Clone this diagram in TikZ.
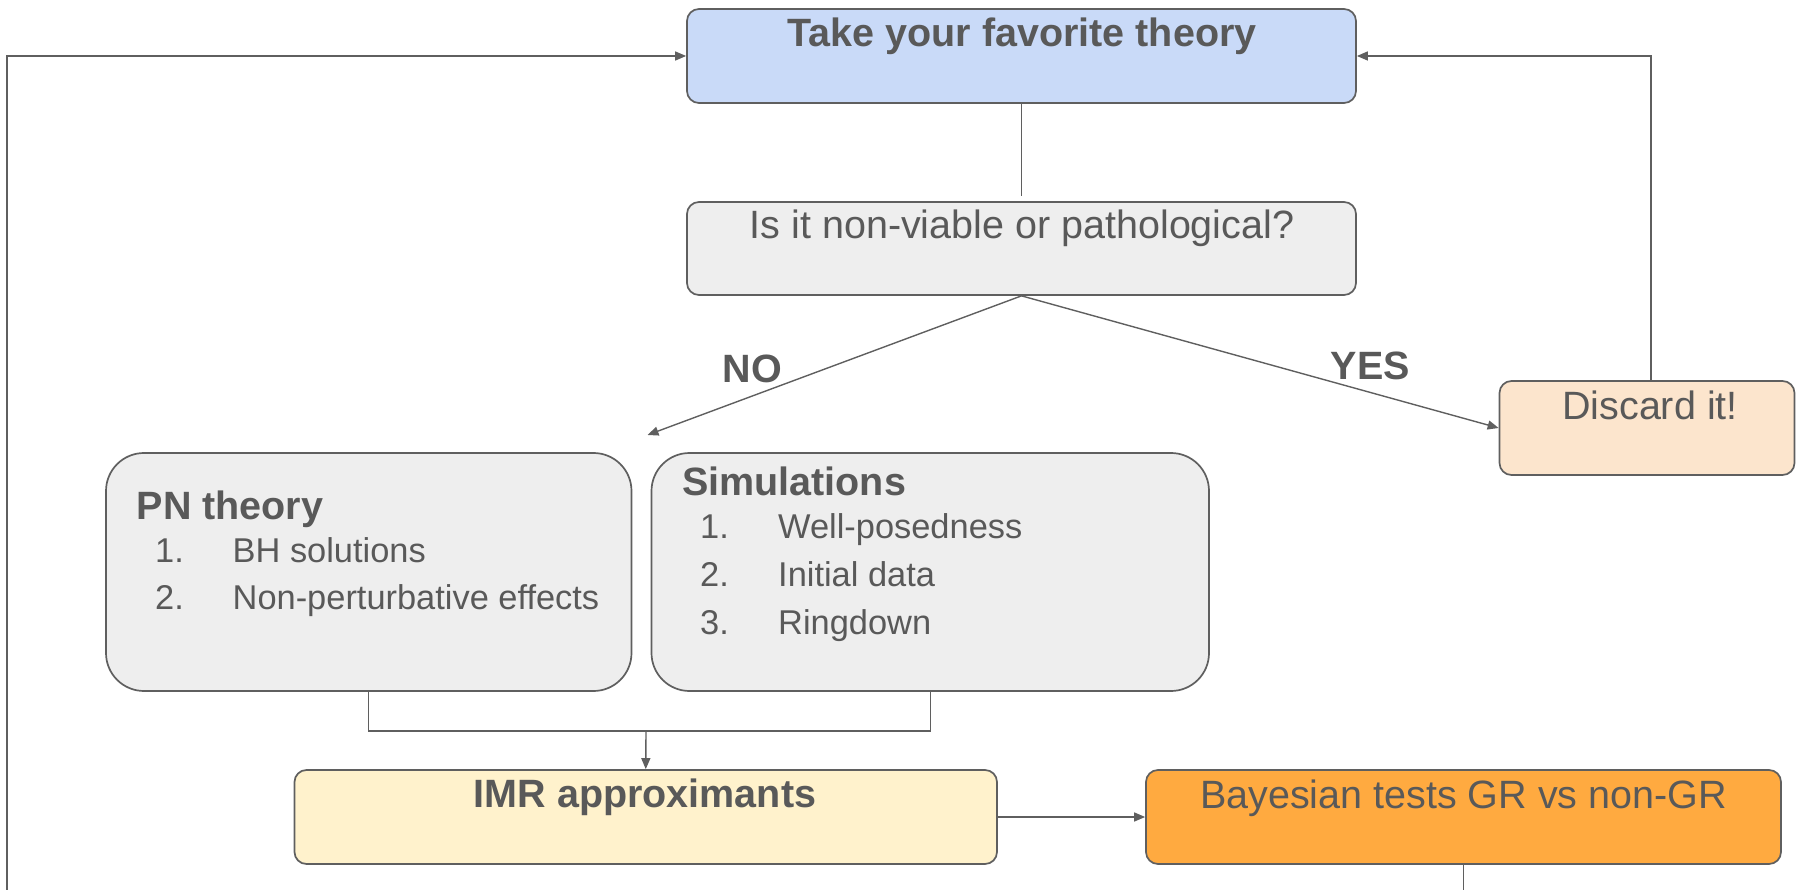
\documentclass[tikz,border=0pt]{standalone}
\usepackage{fontspec}
\setmainfont{Liberation Sans}
\usetikzlibrary{arrows.meta}
\definecolor{txt}{HTML}{595959}
\definecolor{edge}{HTML}{5F5F5F}
\definecolor{cblue}{HTML}{C9DAF8}
\definecolor{cgray}{HTML}{EEEEEE}
\definecolor{cpeach}{HTML}{FCE5CD}
\definecolor{cyellow}{HTML}{FFF2CC}
\definecolor{corange}{HTML}{FFAA40}
\tikzset{
  box/.style={draw=edge, line width=1.7pt, rounded corners=12pt, inner sep=0pt},
  bigbox/.style={draw=edge, line width=1.7pt, rounded corners=38pt, inner sep=0pt},
  lbl/.style={text=txt, inner sep=0pt, font=\fontsize{39.5}{47}\selectfont},
  blbl/.style={text=txt, inner sep=0pt, font=\fontsize{39.5}{47}\selectfont\bfseries},
  item/.style={text=txt, inner sep=0pt, anchor=base west, font=\fontsize{34.4}{41}\selectfont},
  conn/.style={draw=edge, line width=1.4pt},
  arr/.style={conn, -{Triangle[length=11pt,width=9pt]}}
}
\begin{document}
\begin{tikzpicture}[x=1pt,y=-1pt]
\useasboundingbox (0,0) rectangle (1797,890);
% boxes
\node[box, fill=cblue, minimum width=669pt, minimum height=94pt] (top) at (1021.5,56) {};
\node[box, fill=cgray, minimum width=669pt, minimum height=93pt] (q) at (1021.5,248.5) {};
\node[box, fill=cpeach, minimum width=295pt, minimum height=94pt] (disc) at (1647,428) {};
\node[bigbox, fill=cgray, minimum width=525.5pt, minimum height=238pt] (pn) at (368.75,572) {};
\node[bigbox, fill=cgray, minimum width=557.5pt, minimum height=238pt] (sim) at (930.25,572) {};
\node[box, fill=cyellow, minimum width=702.5pt, minimum height=94pt] (imr) at (645.75,817) {};
\node[box, fill=corange, minimum width=635pt, minimum height=94pt] (bay) at (1463.5,817) {};
% texts
\node[blbl, anchor=base] (tTop) at (1022,47) {Take your favorite theory};
\node[lbl, anchor=base] (tQ) at (1022,239) {Is it non-viable or pathological?};
\node[lbl, anchor=base] (tDisc) at (1650,420) {Discard it!};
\node[blbl, anchor=base] (tNo) at (752.6,383) {NO};
\node[blbl, anchor=base] (tYes) at (1370.5,380) {YES};
\node[blbl, anchor=base west] (tPn) at (136.6,519) {PN theory};
\node[item] (pn1n) at (155,562) {1.};
\node[item] (pn1) at (232.5,562) {BH solutions};
\node[item] (pn2n) at (155,609) {2.};
\node[item] (pn2) at (232.5,609) {Non-perturbative effects};
\node[blbl, anchor=base west] (tSim) at (682,495) {Simulations};
\node[item] (s1n) at (700,538) {1.};
\node[item] (s1) at (778,538) {Well-posedness};
\node[item] (s2n) at (700,586) {2.};
\node[item] (s2) at (778,586) {Initial data};
\node[item] (s3n) at (700,634) {3.};
\node[item] (s3) at (778,634) {Ringdown};
\node[blbl, anchor=base] (tImr) at (645,807) {IMR approximants};
\node[lbl, anchor=base] (tBay) at (1463.5,808) {Bayesian tests GR vs non-GR};
% coordinates
\coordinate (bl) at (7,890);
\coordinate (noEnd) at (647.5,435);
\coordinate (join) at (646,731);
\coordinate (bayEnd) at (1463.5,890);
% connectors
\draw[arr] (bl) |- (top.west);
\draw[arr] ([xshift=4pt]disc.north) |- (top.east);
\draw[conn] (top.south) -- ([yshift=5pt]q.north);
\draw[arr] (q.south) -- (noEnd);
\draw[arr] (q.south) -- (disc.west);
\draw[conn] (pn.south) |- (join) -| (sim.south);
\draw[arr] (join) -- (imr.north);
\draw[arr] (imr.east) -- (bay.west);
\draw[conn] (bay.south) -- (bayEnd);
\end{tikzpicture}
\end{document}
